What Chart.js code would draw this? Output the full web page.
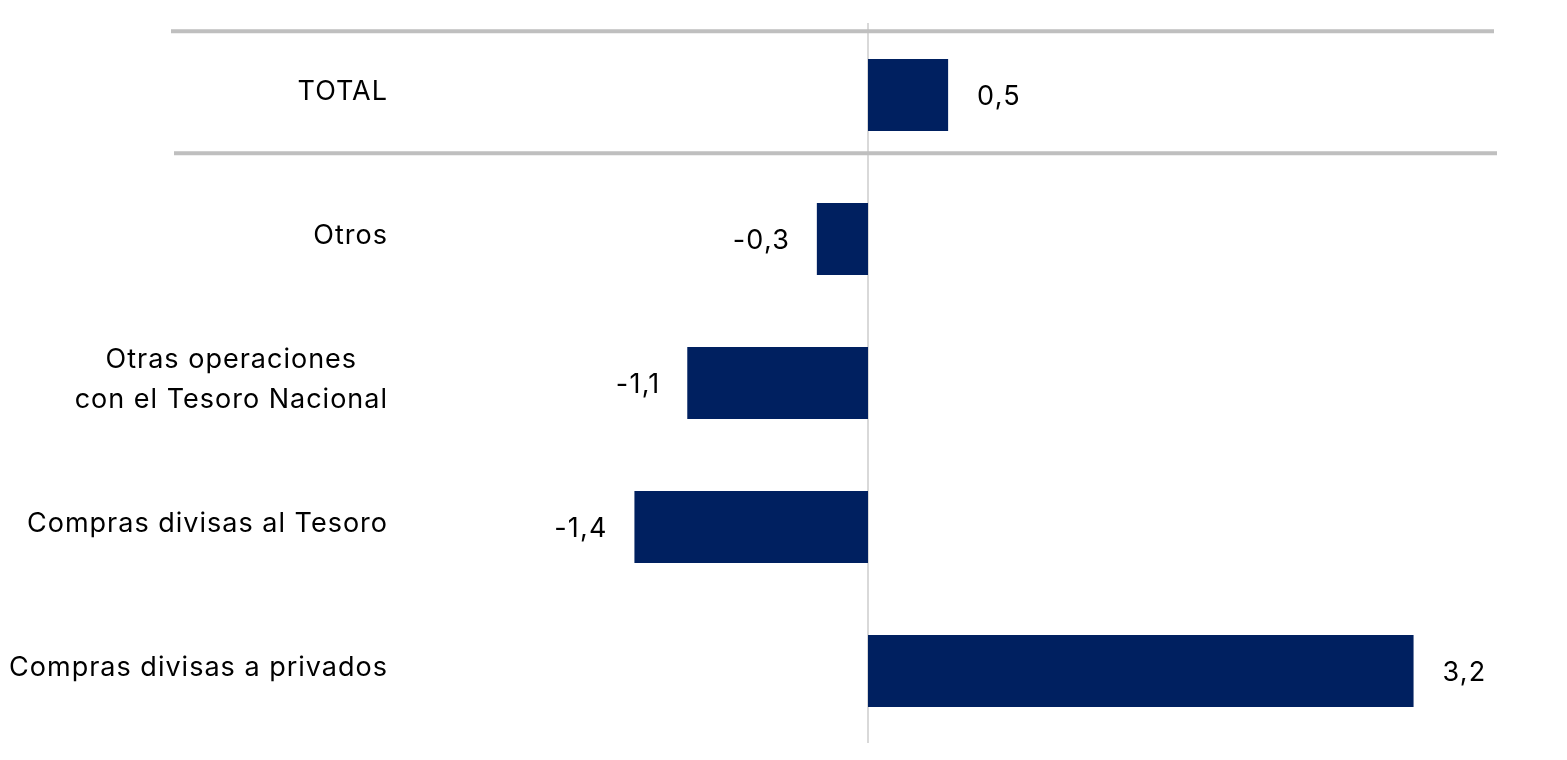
<!DOCTYPE html>
<html>
<head>
<meta charset="utf-8">
<script src="https://cdn.jsdelivr.net/npm/chart.js@4/dist/chart.umd.min.js"></script>
<style>
  html, body { margin: 0; padding: 0; background: #ffffff; }
  #wrap { width: 1567px; height: 760px; position: relative; }
</style>
</head>
<body>
<div id="wrap"><canvas id="c"></canvas></div>
<script>
const categories = [
  'TOTAL',
  'Otros',
  ['Otras operaciones', 'con el Tesoro Nacional'],
  'Compras divisas al Tesoro',
  'Compras divisas a privados'
];
const values = [0.47, -0.30, -1.06, -1.37, 3.20];
const xMin = -2.745;
const xMax = 3.707;

const BAR_COLOR = '#002060';
const FONT = 'Inter, "Open Sans", "Liberation Sans", sans-serif';

function fmt(v) {
  return v.toFixed(1).replace('.', ',');
}

const decorPlugin = {
  id: 'decor',
  beforeDatasetsDraw(chart) {
    const { ctx, chartArea, scales } = chart;
    const x = scales.x, y = scales.y;
    const step = y.getPixelForValue(1) - y.getPixelForValue(0);
    const y0 = y.getPixelForValue(0);
    ctx.save();
    const zx = x.getPixelForValue(0);
    ctx.strokeStyle = '#d9d9d9';
    ctx.lineWidth = 2;
    ctx.beginPath();
    ctx.moveTo(zx, chartArea.top);
    ctx.lineTo(zx, chartArea.bottom);
    ctx.stroke();
    ctx.strokeStyle = '#bfbfbf';
    ctx.lineWidth = 4;
    ctx.beginPath();
    ctx.moveTo(chartArea.left - 229, y0 - 0.442 * step);
    ctx.lineTo(chartArea.right - 6, y0 - 0.442 * step);
    ctx.moveTo(chartArea.left - 226, y0 + 0.405 * step);
    ctx.lineTo(chartArea.right - 3, y0 + 0.405 * step);
    ctx.stroke();
    ctx.restore();
  },
  afterDatasetsDraw(chart) {
    const { ctx, chartArea, scales } = chart;
    const y = scales.y;
    ctx.save();
    ctx.fillStyle = '#000000';
    ctx.font = '27px ' + FONT;
    ctx.letterSpacing = '1px';
    ctx.textBaseline = 'middle';
    ctx.textAlign = 'left';
    const rightEdge = chartArea.left - 13;
    const lineH = 40;
    categories.forEach((lab, i) => {
      const lines = Array.isArray(lab) ? lab : [lab];
      const ws = lines.map(l => ctx.measureText(l).width - 1);
      const w = Math.max(...ws);
      const cx = rightEdge - w / 2;
      const cy = y.getPixelForValue(i) - 3;
      const startY = cy - (lines.length - 1) * lineH / 2;
      lines.forEach((l, k) => ctx.fillText(l, cx - ws[k] / 2, startY + k * lineH));
    });
    ctx.font = '27px ' + FONT;
    ctx.letterSpacing = '1.2px';
    ctx.textAlign = 'left';
    const meta = chart.getDatasetMeta(0);
    meta.data.forEach((bar, i) => {
      const v = values[i];
      const txt = fmt(v);
      const w = ctx.measureText(txt).width - 1.2;
      if (v >= 0) {
        ctx.fillText(txt, bar.x + 29, bar.y + 2);
      } else {
        ctx.fillText(txt, bar.x - 28 - w, bar.y + 2);
      }
    });
    ctx.restore();
  }
};

new Chart(document.getElementById('c'), {
  type: 'bar',
  data: {
    labels: categories,
    datasets: [{
      data: values,
      backgroundColor: BAR_COLOR,
      borderWidth: 0,
      barPercentage: 0.5,
      categoryPercentage: 1.0
    }]
  },
  options: {
    indexAxis: 'y',
    responsive: true,
    maintainAspectRatio: false,
    animation: false,
    devicePixelRatio: 1,
    layout: { padding: { left: 400, right: 67, top: 23, bottom: 17 } },
    plugins: {
      legend: { display: false },
      tooltip: { enabled: false },
      title: { display: false }
    },
    scales: {
      x: {
        display: false,
        min: xMin,
        max: xMax
      },
      y: {
        display: false,
        offset: true
      }
    }
  },
  plugins: [decorPlugin]
});
</script>
</body>
</html>
